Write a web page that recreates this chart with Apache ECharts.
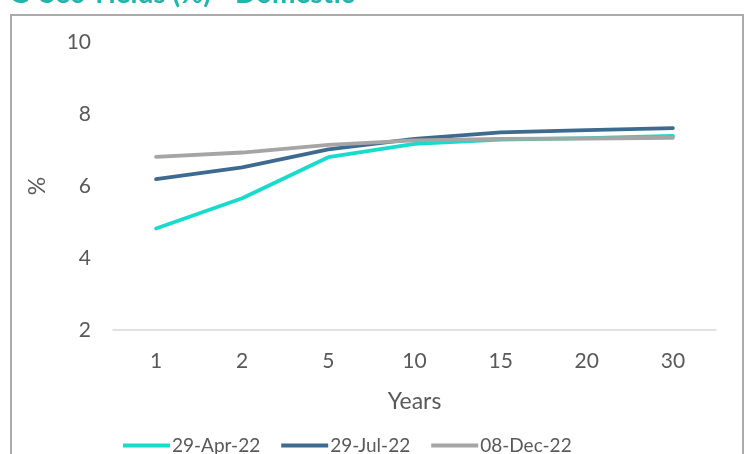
<!DOCTYPE html>
<html>
<head>
<meta charset="utf-8">
<script src="https://cdn.jsdelivr.net/npm/echarts@6/dist/echarts.min.js"></script>
<style>
  html, body { margin: 0; padding: 0; background: #fff; }
  #chart { width: 749px; height: 454px; }
</style>
</head>
<body>
<div id="chart"></div>
<script>
// Tenors (years) on the category axis
const tenors = ['1', '2', '5', '10', '15', '20', '30'];

// Yield curve snapshots, in %
const seriesNames = ['29-Apr-22', '29-Jul-22', '08-Dec-22'];
const yieldsApr = [4.82, 5.66, 6.80, 7.17, 7.29, 7.33, 7.39];
const yieldsJul = [6.19, 6.52, 7.02, 7.31, 7.49, 7.55, 7.61];
const yieldsDec = [6.81, 6.93, 7.14, 7.27, 7.31, 7.32, 7.34];

const yTicks = [2, 4, 6, 8, 10];

const colors = ['#17dccb', '#3f6a8f', '#a5a5a5'];
const font = 'Lato, "Open Sans", sans-serif';
const textColor = '#595959';

const chart = echarts.init(document.getElementById('chart'));

const makeLine = (name, data, color) => ({
  name: name,
  type: 'line',
  data: data,
  symbol: 'none',
  smooth: false,
  lineStyle: { color: color, width: 3.8, cap: 'round', join: 'round' },
  itemStyle: { color: color }
});

chart.setOption({
  animation: false,
  backgroundColor: '#ffffff',
  graphic: [
    {
      type: 'rect',
      shape: { x: 11, y: 15, width: 732, height: 460 },
      style: { fill: 'none', stroke: '#ababab', lineWidth: 2 },
      silent: true
    },
    {
      type: 'text',
      x: 9,
      y: -20,
      style: {
        text: 'G-Sec Yields (%) - Domestic',
        fill: '#1fb5a9',
        font: 'bold 28px ' + font
      },
      silent: true
    }
  ],
  grid: { left: 113, right: 33, top: 42, bottom: 124, containLabel: false },
  legend: {
    data: seriesNames,
    bottom: -6,
    left: 118,
    itemWidth: 47,
    itemHeight: 4,
    itemGap: 21,
    icon: 'rect',
    textStyle: { color: textColor, fontSize: 19, fontFamily: font, padding: [0, 0, 0, -3] }
  },
  xAxis: {
    type: 'category',
    data: tenors,
    boundaryGap: true,
    name: 'Years',
    nameLocation: 'middle',
    nameGap: 60,
    nameTextStyle: { color: textColor, fontSize: 23, fontFamily: font },
    axisLine: { show: true, lineStyle: { color: '#d9d9d9', width: 1.5 } },
    axisTick: { show: false },
    axisLabel: { color: textColor, fontSize: 21, fontFamily: font, margin: 21 }
  },
  yAxis: {
    type: 'value',
    min: yTicks[0],
    max: yTicks[yTicks.length - 1],
    interval: 2,
    name: '%',
    nameLocation: 'middle',
    nameGap: 64,
    nameRotate: 90,
    nameTextStyle: { color: textColor, fontSize: 23, fontFamily: font },
    axisLine: { show: false },
    axisTick: { show: false },
    splitLine: { show: false },
    axisLabel: { color: textColor, fontSize: 21, fontFamily: font, margin: 22 }
  },
  series: [
    makeLine(seriesNames[0], yieldsApr, colors[0]),
    makeLine(seriesNames[1], yieldsJul, colors[1]),
    makeLine(seriesNames[2], yieldsDec, colors[2])
  ]
});
</script>
</body>
</html>
